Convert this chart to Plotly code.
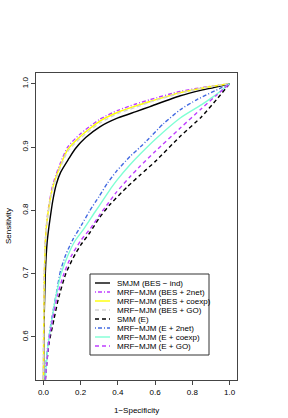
import plotly.graph_objects as go

# ---- data ----
series_names = [
    "SMJM (BES − ind)",
    "MRF−MJM (BES + 2net)",
    "MRF−MJM (BES + coexp)",
    "MRF−MJM (BES + GO)",
    "SMM (E)",
    "MRF−MJM (E + 2net)",
    "MRF−MJM (E + coexp)",
    "MRF−MJM (E + GO)",
]

bes_ind_x = [0, 0.002, 0.01, 0.02, 0.03, 0.042, 0.05, 0.068, 0.092, 0.137, 0.17, 0.227, 0.303, 0.4, 0.497, 0.573, 0.735, 0.85, 0.915, 1.0]
bes_ind_y = [0.5, 0.6, 0.7, 0.75, 0.775, 0.8, 0.815, 0.84, 0.86, 0.882, 0.897, 0.915, 0.932, 0.946, 0.956, 0.964, 0.981, 0.99, 0.994, 1.0]

bes_2net_x = [0, 0.001, 0.005, 0.012, 0.022, 0.032, 0.045, 0.059, 0.09, 0.13, 0.195, 0.303, 0.4, 0.497, 0.573, 0.735, 0.85, 1.0]
bes_2net_y = [0.5, 0.6, 0.7, 0.762, 0.793, 0.813, 0.834, 0.849, 0.874, 0.9, 0.92, 0.944, 0.958, 0.968, 0.975, 0.988, 0.994, 1.0]

bes_coexp_x = [0, 0.001, 0.005, 0.012, 0.022, 0.032, 0.045, 0.059, 0.09, 0.13, 0.195, 0.303, 0.4, 0.497, 0.573, 0.735, 0.85, 1.0]
bes_coexp_y = [0.5, 0.6, 0.7, 0.76, 0.79, 0.81, 0.83, 0.845, 0.87, 0.896, 0.916, 0.941, 0.955, 0.965, 0.972, 0.986, 0.993, 1.0]

bes_go_x = [0, 0.001, 0.005, 0.012, 0.022, 0.032, 0.045, 0.059, 0.09, 0.13, 0.195, 0.303, 0.4, 0.497, 0.573, 0.735, 0.85, 1.0]
bes_go_y = [0.5, 0.6, 0.7, 0.757, 0.787, 0.807, 0.827, 0.842, 0.867, 0.893, 0.913, 0.938, 0.953, 0.963, 0.971, 0.985, 0.993, 1.0]

smm_e_x = [0.005, 0.015, 0.03, 0.056, 0.08, 0.12, 0.16, 0.2, 0.25, 0.3, 0.36, 0.45, 0.52, 0.6, 0.735, 0.85, 0.93, 1.0]
smm_e_y = [0.51, 0.55, 0.59, 0.627, 0.66, 0.7, 0.725, 0.745, 0.765, 0.788, 0.81, 0.837, 0.856, 0.877, 0.917, 0.948, 0.975, 1.0]

e_2net_x = [0.004, 0.012, 0.025, 0.045, 0.07, 0.092, 0.12, 0.16, 0.205, 0.25, 0.299, 0.344, 0.393, 0.465, 0.52, 0.555, 0.645, 0.735, 0.825, 0.951, 1.0]
e_2net_y = [0.51, 0.55, 0.59, 0.63, 0.67, 0.705, 0.73, 0.755, 0.777, 0.8, 0.822, 0.843, 0.862, 0.885, 0.9, 0.91, 0.937, 0.959, 0.975, 0.993, 1.0]

e_coexp_x = [0.004, 0.015, 0.025, 0.045, 0.07, 0.095, 0.13, 0.17, 0.215, 0.276, 0.32, 0.368, 0.393, 0.465, 0.52, 0.6, 0.735, 0.85, 0.915, 1.0]
e_coexp_y = [0.51, 0.555, 0.588, 0.627, 0.668, 0.7, 0.728, 0.752, 0.77, 0.797, 0.816, 0.837, 0.847, 0.872, 0.889, 0.912, 0.946, 0.967, 0.98, 1.0]

e_go_x = [0.005, 0.015, 0.03, 0.05, 0.075, 0.11, 0.15, 0.2, 0.254, 0.3, 0.35, 0.39, 0.465, 0.52, 0.6, 0.735, 0.85, 0.93, 1.0]
e_go_y = [0.51, 0.55, 0.595, 0.63, 0.665, 0.7, 0.728, 0.752, 0.772, 0.792, 0.812, 0.828, 0.853, 0.87, 0.893, 0.93, 0.961, 0.982, 1.0]

x_ticks = [0.0, 0.2, 0.4, 0.6, 0.8, 1.0]
y_ticks = [0.6, 0.7, 0.8, 0.9, 1.0]

# ---- styles ----
xs = [bes_ind_x, bes_2net_x, bes_coexp_x, bes_go_x, smm_e_x, e_2net_x, e_coexp_x, e_go_x]
ys = [bes_ind_y, bes_2net_y, bes_coexp_y, bes_go_y, smm_e_y, e_2net_y, e_coexp_y, e_go_y]
colors = ["#000000", "#BF3EFF", "#FFFF00", "#D3D3D3", "#000000", "#4169E1", "#7FFFD4", "#BF3EFF"]
dashdot = "1px,2px,4px,2px"
dashed = "4px,3px"
dashes = ["solid", dashdot, "solid", dashed, dashed, dashdot, "solid", dashed]
widths = [1.4, 1.4, 1.4, 1.4, 1.4, 1.4, 1.4, 1.4]

FONT = "Liberation Sans, Arial, Helvetica, sans-serif"
W, H = 288, 418
L, R, T, B = 36, 237, 73, 380  # plot box in pixels

fig = go.Figure()
for x, y, c, d, w, n in zip(xs, ys, colors, dashes, widths, series_names):
    fig.add_trace(go.Scatter(x=x, y=y, mode="lines", name=n,
                             line=dict(color=c, dash=d, width=w, shape="spline", smoothing=0.6),
                             showlegend=False))

def px2paper(px, py):
    return (px - L) / (R - L), (B - py) / (B - T)

# manual legend in R style
bx0, by0 = px2paper(90, 274)
bx1, by1 = px2paper(209, 355)
shapes = [dict(type="rect", xref="paper", yref="paper", x0=bx0, y0=by1, x1=bx1, y1=by0,
               line=dict(color="#333333", width=1), fillcolor="white", layer="above")]
annotations = []
for i, (n, c, d) in enumerate(zip(series_names, colors, dashes)):
    py = 283 + 9 * i
    lx0, ly = px2paper(95, py)
    lx1, _ = px2paper(110, py)
    shapes.append(dict(type="line", xref="paper", yref="paper", x0=lx0, x1=lx1, y0=ly, y1=ly,
                       line=dict(color=c, dash=d, width=1.4), layer="above"))
    tx, _ = px2paper(115, py)
    annotations.append(dict(text=n, xref="paper", yref="paper", x=tx, y=ly, xanchor="left",
                            yanchor="middle", showarrow=False,
                            font=dict(family=FONT, size=8, color="#000000")))

ax, ay = px2paper(136.5, 410)
annotations.append(dict(text="1−Specificity", xref="paper", yref="paper", x=ax, y=ay,
                        xanchor="center", yanchor="middle", showarrow=False,
                        font=dict(family=FONT, size=8, color="#000000")))
ax2, ay2 = px2paper(8, 226)
annotations.append(dict(text="Sensitivity", xref="paper", yref="paper", x=ax2, y=ay2,
                        xanchor="center", yanchor="middle", showarrow=False, textangle=-90,
                        font=dict(family=FONT, size=8, color="#000000")))

fig.update_layout(
    width=W, height=H,
    margin=dict(l=L, r=W - R, t=T, b=H - B, pad=0),
    paper_bgcolor="white", plot_bgcolor="white",
    shapes=shapes, annotations=annotations,
    xaxis=dict(range=[-0.04, 1.04], tickvals=x_ticks, tickformat=".1f",
               showgrid=False, zeroline=False, showline=True, mirror=True,
               linecolor="#444444", linewidth=1, ticks="outside", ticklen=4,
               tickcolor="#444444", tickfont=dict(family=FONT, size=8, color="#000000")),
    yaxis=dict(range=[0.532, 1.017], tickvals=y_ticks, tickformat=".1f", tickangle=-90,
               showgrid=False, zeroline=False, showline=True, mirror=True,
               linecolor="#444444", linewidth=1, ticks="outside", ticklen=4,
               tickcolor="#444444", tickfont=dict(family=FONT, size=8, color="#000000")),
)

fig.write_html("out.html", config={"displayModeBar": False},
               post_script="document.body.style.margin='0';document.body.style.overflow='hidden';")
